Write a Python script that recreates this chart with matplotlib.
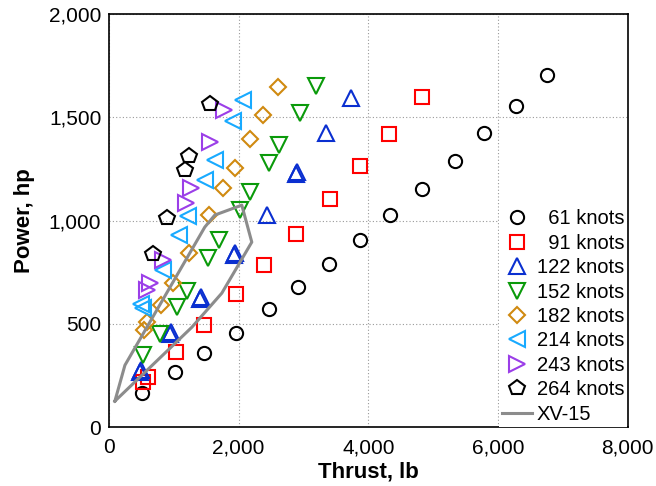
import matplotlib.pyplot as plt

plt.rcParams['font.family'] = ['Liberation Sans', 'DejaVu Sans']

# thrust (lb) / power (hp) per airspeed
k61_x = [508, 1017, 1464, 1957, 2465, 2912, 3390, 3867, 4330, 4823, 5331, 5778, 6271, 6749]
k61_y = [165, 266, 358, 455, 571, 678, 789, 906, 1027, 1153, 1288, 1424, 1554, 1705]

k91_x = [524, 601, 1032, 1464, 1957, 2388, 2881, 3405, 3867, 4314, 4823]
k91_y = [218, 242, 363, 494, 644, 785, 935, 1104, 1264, 1419, 1598]

k122_x = [493, 480, 955, 940, 1418, 1400, 1941, 1925, 2434, 2897, 2880, 3344, 3729]
k122_y = [276, 268, 460, 452, 630, 622, 843, 835, 1027, 1235, 1228, 1424, 1593]

k152_x = [524, 786, 1048, 1202, 1525, 1695, 2018, 2173, 2465, 2619, 2943, 3190]
k152_y = [349, 450, 581, 659, 818, 906, 1051, 1138, 1278, 1366, 1521, 1651]

k182_x = [539, 586, 801, 986, 1233, 1541, 1757, 1941, 2173, 2373, 2604]
k182_y = [470, 508, 591, 697, 843, 1027, 1157, 1254, 1395, 1511, 1646]

k214_x = [493, 524, 832, 1079, 1217, 1479, 1633, 1911, 2065]
k214_y = [596, 576, 760, 930, 1022, 1196, 1293, 1482, 1584]

k243_x = [586, 632, 832, 1186, 1263, 1556, 1772]
k243_y = [663, 697, 809, 1085, 1157, 1380, 1535]

k264_x = [678, 894, 1171, 1233, 1556]
k264_y = [838, 1012, 1245, 1312, 1564]

xv15_x = [92, 247, 1479, 1633, 2049, 2203, 1741, 1279, 92]
xv15_y = [126, 300, 969, 1027, 1075, 896, 649, 484, 126]

fig = plt.figure(figsize=(6.56, 4.86), dpi=100)
ax = fig.add_axes([0.166, 0.121, 0.791, 0.850])

series = [
    (k61_x, k61_y, 'o', 'black', '  61 knots', 9.5),
    (k91_x, k91_y, 's', '#ff0000', '  91 knots', 9.5),
    (k122_x, k122_y, '^', '#0a2fd0', '122 knots', 11),
    (k152_x, k152_y, 'v', '#0a9a0a', '152 knots', 11),
    (k182_x, k182_y, 'D', '#d08a10', '182 knots', 8.5),
    (k214_x, k214_y, '<', '#18aaff', '214 knots', 11),
    (k243_x, k243_y, '>', '#9b3ee8', '243 knots', 11),
    (k264_x, k264_y, 'p', 'black', '264 knots', 11.5),
]
for xs, ys, m, c, lab, ms in series:
    ax.plot(xs, ys, linestyle='none', marker=m, markersize=ms,
            markerfacecolor='none', markeredgecolor=c, markeredgewidth=1.5,
            label=lab)

ax.plot(xv15_x, xv15_y, color='#8c8c8c', linewidth=2.2, label='XV-15')

ax.set_xlim(0, 8000)
ax.set_ylim(0, 2000)
ax.set_xticks([0, 2000, 4000, 6000, 8000])
ax.set_yticks([0, 500, 1000, 1500, 2000])
ax.xaxis.set_major_formatter(plt.FuncFormatter(lambda v, p: f'{int(v):,}'))
ax.yaxis.set_major_formatter(plt.FuncFormatter(lambda v, p: f'{int(v):,}'))
ax.tick_params(length=0, labelsize=15)
ax.tick_params(axis='x', pad=8)
ax.tick_params(axis='y', pad=5.5)
ax.grid(True, linestyle=(0, (1, 2)), color='#999999', linewidth=0.8)
ax.set_axisbelow(True)
for s in ax.spines.values():
    s.set_linewidth(1.2)

ax.set_xlabel('Thrust, lb', fontsize=16, fontweight='bold', labelpad=3)
ax.set_ylabel('Power, hp', fontsize=16, fontweight='bold', labelpad=10)

leg = ax.legend(loc='lower right', frameon=True, fontsize=14.5, handlelength=1.5,
                handletextpad=0.25, labelspacing=0.27, borderpad=0.15,
                borderaxespad=0.02, fancybox=False)
leg.get_frame().set_facecolor('white')
leg.get_frame().set_edgecolor('none')
leg.get_frame().set_alpha(1)

fig.savefig('out.png', dpi=100)
